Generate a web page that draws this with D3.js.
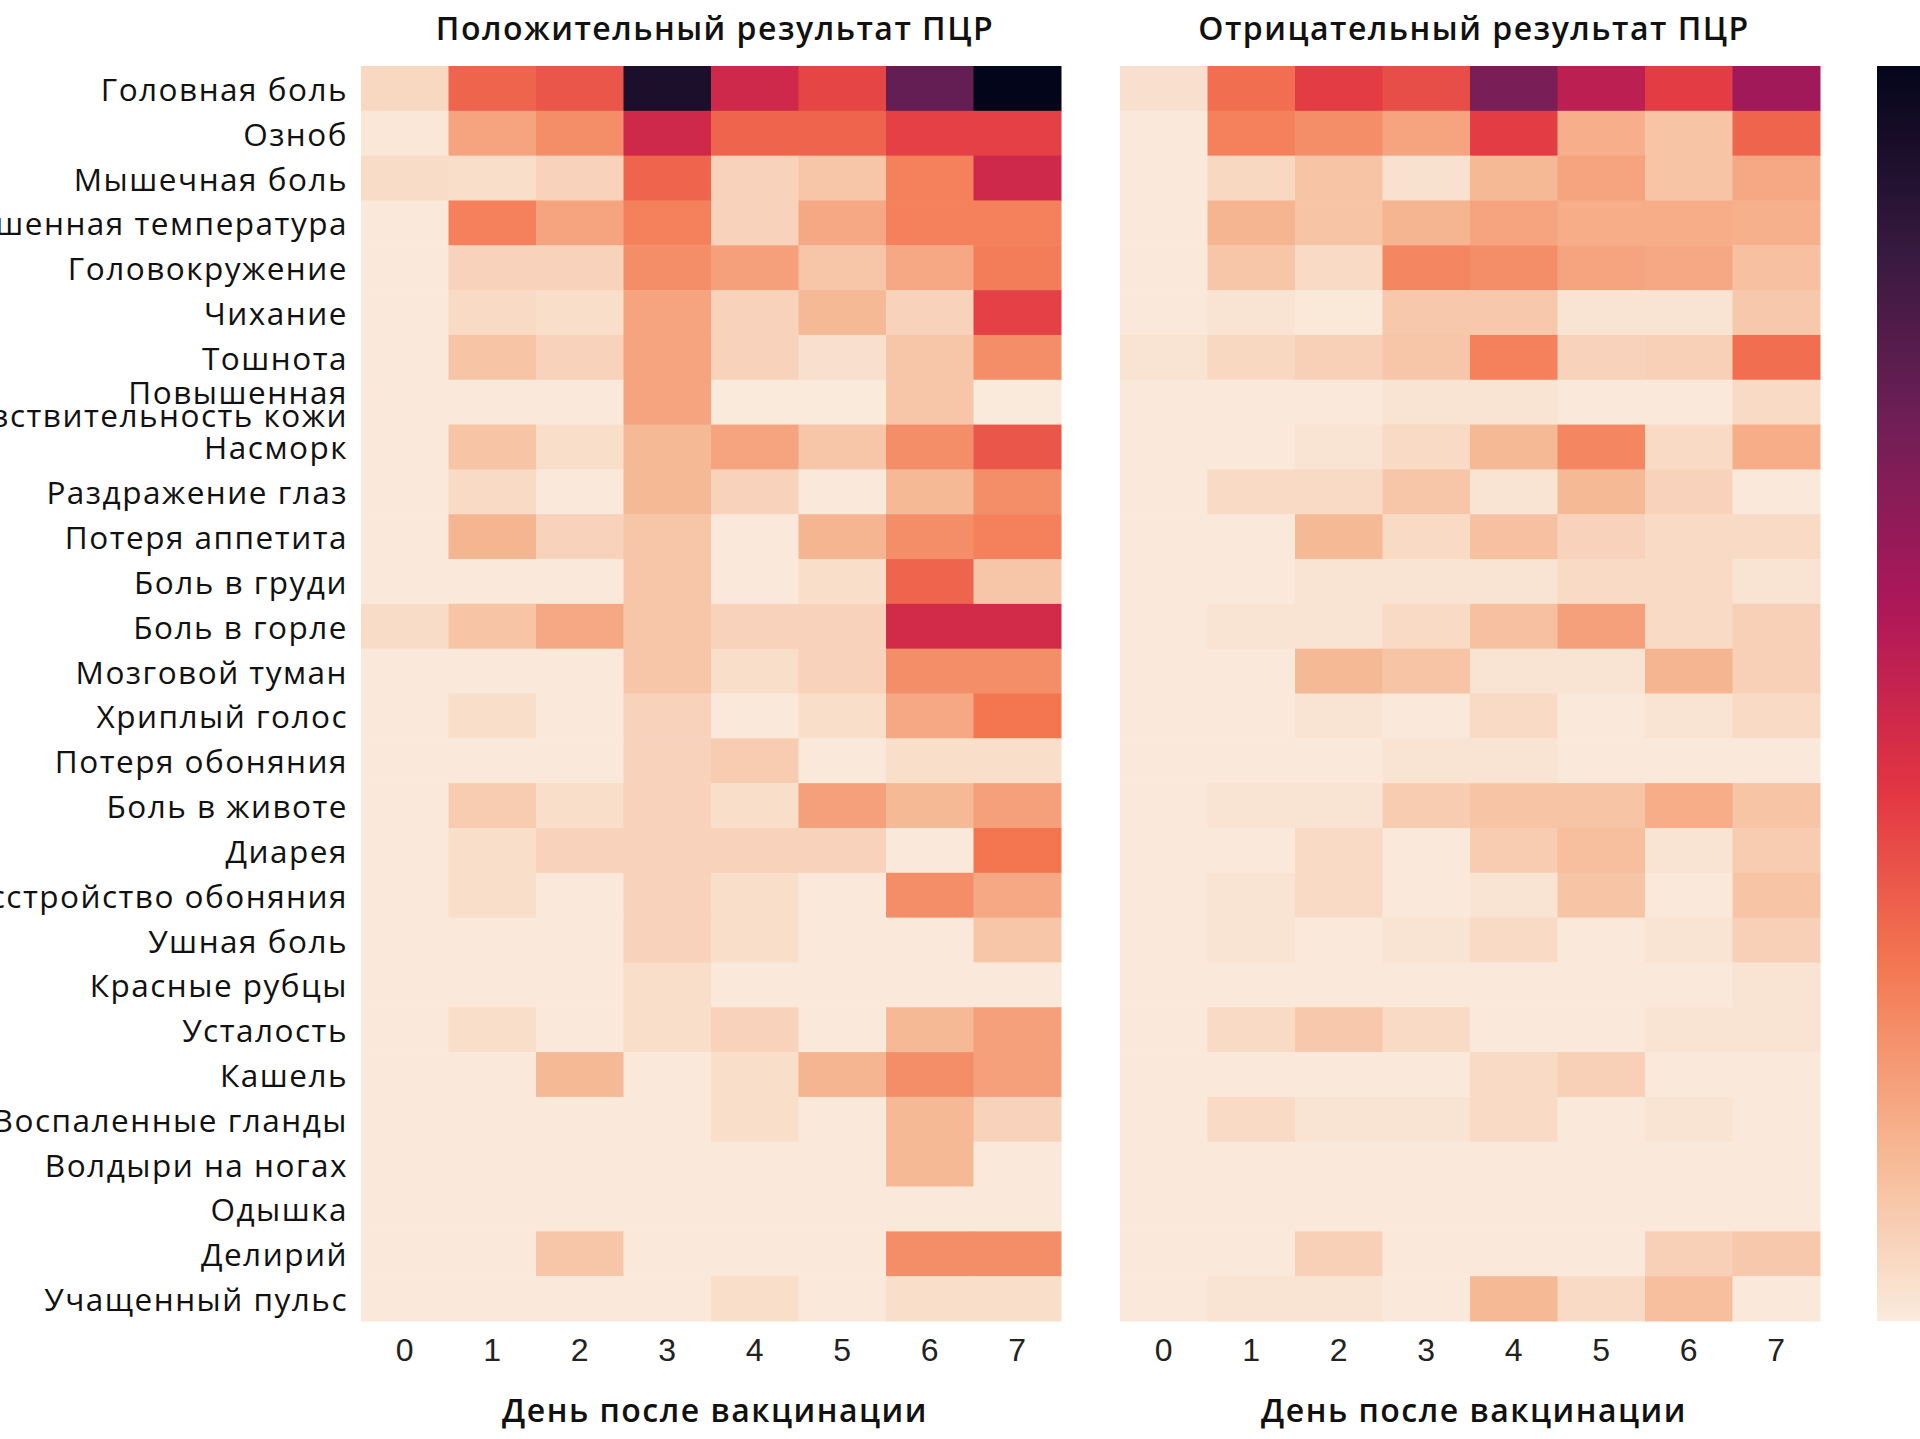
<!DOCTYPE html>
<html>
<head>
<meta charset="utf-8">
<script src="https://cdn.jsdelivr.net/npm/d3@7"></script>
<style>
  html, body { margin: 0; padding: 0; background: #fff; overflow: hidden; }
  svg { display: block; }
</style>
</head>
<body>
<svg id="chart" width="1920" height="1439"></svg>
<script>
// ---------------- DATA ----------------
const symptoms = [
  "Головная боль", "Озноб", "Мышечная боль", "Повышенная температура",
  "Головокружение", "Чихание", "Тошнота", "Повышенная\nчувствительность кожи",
  "Насморк", "Раздражение глаз", "Потеря аппетита", "Боль в груди",
  "Боль в горле", "Мозговой туман", "Хриплый голос", "Потеря обоняния",
  "Боль в животе", "Диарея", "Расстройство обоняния", "Ушная боль",
  "Красные рубцы", "Усталость", "Кашель", "Воспаленные гланды",
  "Волдыри на ногах", "Одышка", "Делирий", "Учащенный пульс"
];
const days = [0, 1, 2, 3, 4, 5, 6, 7];
const panelTitles = ["Положительный результат ПЦР", "Отрицательный результат ПЦР"];
const xAxisTitle = "День после вакцинации";

// relative intensity (0–100), one row per symptom, one column per day
const positiveValues = [
  [5, 32.5, 35.5, 93, 48, 39, 74, 100],
  [1, 18, 23, 48, 32.5, 32.5, 40, 40],
  [4, 3.5, 6.5, 32.5, 6.5, 9.5, 26, 48],
  [0.5, 26, 18, 26, 6.5, 17, 26, 26],
  [0.5, 6.5, 6.5, 23, 19, 9.5, 17, 27],
  [0.5, 4.5, 3.5, 18, 6.5, 13, 6.5, 40],
  [0.5, 10, 6.5, 18, 6.5, 3, 9.5, 23],
  [0.5, 0.5, 0.5, 18, 0.3, 0.3, 9.5, 0.3],
  [0.5, 10, 3.5, 13, 18, 9.5, 23, 35.5],
  [0.5, 4.5, 0.5, 13, 6.5, 0.5, 13, 23],
  [0.5, 14, 6.5, 9.5, 0.5, 14, 23, 26],
  [0.5, 0.5, 0.5, 9.5, 0.5, 3.5, 32.5, 9.5],
  [4, 10, 17, 9.5, 6.5, 6.5, 47, 47],
  [0.5, 0.5, 0.5, 9.5, 3.5, 6.5, 23, 23],
  [0.5, 3.5, 0.5, 6.5, 0.5, 3.5, 17, 28.5],
  [0.5, 0.5, 0.5, 6.5, 8, 0.5, 3.5, 3.5],
  [0.5, 8, 3.5, 6.5, 3.5, 19, 13, 19],
  [0.5, 3.5, 6.5, 6.5, 6.5, 6.5, 0.5, 28.5],
  [0.5, 3.5, 0.5, 6.5, 3.5, 0.5, 23, 17],
  [0.5, 0.5, 0.5, 6.5, 3.5, 0.5, 0.5, 9.5],
  [0.5, 0.5, 0.5, 3.5, 0.5, 0.5, 0.5, 0.5],
  [0.5, 3.5, 0.5, 3.5, 6.5, 0.5, 13, 19],
  [0.5, 0.5, 13, 0.5, 3.5, 14, 23, 19],
  [0.5, 0.5, 0.5, 0.5, 3.5, 0.5, 13, 6.5],
  [0.5, 0.5, 0.5, 0.5, 0.5, 0.5, 13, 0.5],
  [0.5, 0.5, 0.5, 0.5, 0.5, 0.5, 0.5, 0.5],
  [0.5, 0.5, 9.5, 0.5, 0.5, 0.5, 23, 23],
  [0.5, 0.5, 0.5, 0.5, 3.5, 0.5, 3.5, 3.5]
];
const negativeValues = [
  [3, 30, 41, 37, 69, 53, 41, 60],
  [0.5, 26, 23, 18, 41, 15.5, 10, 32.5],
  [0.5, 5, 10, 2.5, 13, 18, 10, 17],
  [0.5, 14, 10, 14, 18, 16, 16, 15],
  [0.5, 9.5, 4.5, 25, 23, 18, 17, 11],
  [0.5, 2, 0.8, 9, 9, 2, 2, 9],
  [2, 5, 7, 9.5, 26, 6.5, 7, 30],
  [0.5, 0.5, 0.5, 2, 2, 0.5, 0.5, 4.5],
  [0.5, 0.5, 2, 4.5, 13, 25, 4.5, 16],
  [0.5, 4.5, 4.5, 9.5, 2, 13, 6.5, 0.5],
  [0.5, 0.5, 13, 4.5, 11, 6.5, 4.5, 4.5],
  [0.5, 0.5, 2, 2, 2, 4.5, 4.5, 2],
  [0.5, 2, 2, 4.5, 11, 19, 4.5, 7],
  [0.5, 0.5, 13, 10, 2, 2, 14, 7],
  [0.5, 0.5, 2, 0.5, 4.5, 0.5, 2, 4.5],
  [0.5, 0.5, 0.5, 2, 2, 0.5, 0.5, 0.5],
  [0.5, 2, 2, 8, 10, 10, 16, 10],
  [0.5, 0.5, 4.5, 0.5, 8, 11.5, 2, 8],
  [0.5, 2, 4.5, 0.5, 2, 10, 0.5, 10],
  [0.5, 2, 0.5, 2, 4.5, 0.5, 2, 7],
  [0.5, 0.5, 0.5, 0.5, 0.5, 0.5, 0.5, 2],
  [0.5, 4.5, 9, 4.5, 0.5, 0.5, 2, 2],
  [0.5, 0.5, 0.5, 0.5, 4.5, 7, 0.5, 0.5],
  [0.5, 4.5, 2, 2, 4.5, 0.5, 2, 0.5],
  [0.5, 0.5, 0.5, 0.5, 0.5, 0.5, 0.5, 0.5],
  [0.5, 0.5, 0.5, 0.5, 0.5, 0.5, 0.5, 0.5],
  [0.5, 0.5, 7, 0.5, 0.5, 0.5, 7, 9],
  [0.5, 2, 2, 0.5, 13, 4.5, 11.5, 0.5]
];
const valueDomain = [0, 100];

// seaborn "rocket" colormap anchor colours (dark -> light); used reversed
const rocketStops = ["#03051a", "#35193e", "#701f57", "#ad1759", "#e13342", "#f37651", "#f6b48f", "#faebdd"];

// ---------------- LAYOUT ----------------
const svg = d3.select("#chart");
const W = 1920, H = 1439;
svg.append("rect").attr("width", W).attr("height", H).attr("fill", "#fff");

const topY = 66, bottomY = 1321;
const panels = [
  { x0: 361, x1: 1061, values: positiveValues, title: panelTitles[0] },
  { x0: 1120, x1: 1820, values: negativeValues, title: panelTitles[1] }
];

const rocket = d3.scaleLinear()
  .domain(d3.range(rocketStops.length).map(i => i / (rocketStops.length - 1)))
  .range(rocketStops)
  .interpolate(d3.interpolateRgb);
const vNorm = d3.scaleLinear().domain(valueDomain).range([1, 0]).clamp(true);
const color = v => rocket(vNorm(v));

const y = d3.scaleBand().domain(symptoms).range([topY, bottomY]).padding(0);

const labelFont = "'Open Sans', 'Noto Sans', sans-serif";
const tickFont = "'Liberation Sans', Arial, sans-serif";

panels.forEach((p, pi) => {
  const x = d3.scaleBand().domain(days).range([p.x0, p.x1]).padding(0);
  const g = svg.append("g");
  const cells = [];
  p.values.forEach((row, ri) => row.forEach((v, di) => cells.push({ s: symptoms[ri], d: days[di], v })));
  g.selectAll("rect.cell").data(cells).join("rect")
    .attr("class", "cell")
    .attr("x", d => x(d.d))
    .attr("y", d => y(d.s))
    .attr("width", x.bandwidth() + 0.5)
    .attr("height", y.bandwidth() + 0.5)
    .attr("fill", d => color(d.v));

  const xAxis = d3.axisBottom(x).tickSize(0).tickPadding(0);
  const ax = svg.append("g").attr("transform", `translate(0, ${bottomY + 17})`).call(xAxis);
  ax.select(".domain").remove();
  ax.selectAll("text")
    .attr("dy", "0.71em")
    .attr("y", 0)
    .style("font-family", tickFont)
    .style("font-size", "32px")
    .style("fill", "#222");

  const cx = (p.x0 + p.x1) / 2 + 4;
  svg.append("text")
    .attr("x", cx).attr("y", 27)
    .attr("text-anchor", "middle").attr("dominant-baseline", "central")
    .style("font-family", labelFont).style("font-weight", "600")
    .style("font-size", "32px").style("letter-spacing", "1.5px").style("fill", "#111")
    .text(p.title);

  svg.append("text")
    .attr("x", cx).attr("y", 1409)
    .attr("text-anchor", "middle").attr("dominant-baseline", "central")
    .style("font-family", labelFont).style("font-weight", "600")
    .style("font-size", "32px").style("letter-spacing", "1.5px").style("fill", "#111")
    .text(xAxisTitle);
});

// y axis labels
const yAxis = d3.axisLeft(y).tickSize(0).tickPadding(0);
const yg = svg.append("g").attr("transform", "translate(348,0)").call(yAxis);
yg.select(".domain").remove();
yg.selectAll(".tick text").each(function(d) {
  const t = d3.select(this);
  const lines = d.split("\n");
  t.text(null).attr("x", 0).attr("dy", null)
    .attr("text-anchor", "end")
    .style("font-family", labelFont)
    .style("font-size", "31.5px")
    .style("letter-spacing", "1.5px")
    .style("fill", "#111");
  if (lines.length === 1) {
    t.attr("y", 0).attr("dominant-baseline", "central").text(lines[0]);
  } else {
    t.attr("dominant-baseline", "central");
    lines.forEach((ln, i) => {
      t.append("tspan").attr("x", 0).attr("y", (i - (lines.length - 1) / 2) * 23)
        .attr("dominant-baseline", "central").text(ln);
    });
  }
});

// colour bar (partially cut by right edge as in the original)
const defs = svg.append("defs");
const grad = defs.append("linearGradient").attr("id", "cbar")
  .attr("x1", 0).attr("y1", 1).attr("x2", 0).attr("y2", 0);
d3.range(0, 1.0001, 0.02).forEach(t => {
  grad.append("stop").attr("offset", t).attr("stop-color", color(valueDomain[0] + t * (valueDomain[1] - valueDomain[0])));
});
svg.append("rect")
  .attr("x", 1877).attr("y", topY)
  .attr("width", 60).attr("height", bottomY - topY)
  .attr("fill", "url(#cbar)");
</script>
</body>
</html>
